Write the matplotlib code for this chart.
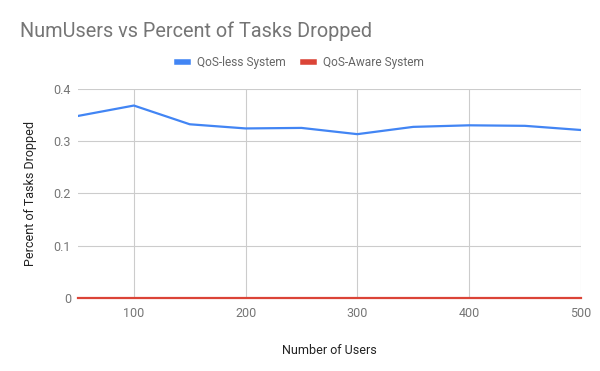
import matplotlib
matplotlib.use("Agg")
from matplotlib import pyplot as plt

plt.rcParams['font.family'] = ['Roboto', 'DejaVu Sans']

users = [50, 100, 150, 200, 250, 300, 350, 400, 450, 500]
qos_less = [0.349, 0.369, 0.333, 0.325, 0.326, 0.314, 0.328, 0.331, 0.330, 0.322]
qos_aware = [0, 0, 0, 0, 0, 0, 0, 0, 0, 0]

fig = plt.figure(figsize=(6, 3.71), dpi=100)
ax = fig.add_axes([0.13, 0.198, 0.838, 0.561])

ax.plot(users, qos_less, color='#4285f4', lw=1.6, label='QoS-less System', zorder=3)
ax.plot(users, qos_aware, color='#db4437', lw=1.6, label='QoS-Aware System', zorder=3, clip_on=False)

ax.set_xlim(50, 500)
ax.set_ylim(0, 0.4)
ax.set_xticks([100, 200, 300, 400, 500])
ax.set_yticks([0, 0.1, 0.2, 0.3, 0.4])
ax.set_yticklabels(['0', '0.1', '0.2', '0.3', '0.4'])
ax.grid(True, color='#cccccc', lw=0.8)
for s in ax.spines.values():
    s.set_visible(False)
ax.tick_params(length=0, labelsize=9, colors='#757575', pad=5)
ax.tick_params(axis='x', pad=7)

ax.set_xlabel('Number of Users', fontsize=9, color='#222222', labelpad=17)
ax.set_ylabel('Percent of Tasks Dropped', fontsize=9, color='#222222', labelpad=12)

fig.text(0.033, 0.900, 'NumUsers vs Percent of Tasks Dropped', fontsize=14.3, color='#757575', va='baseline')
fig.legend(loc='center left', bbox_to_anchor=(0.295, 0.8315), ncol=2, frameon=False,
           fontsize=8.6, labelcolor='#666666', handlelength=0.92, handletextpad=0.75,
           columnspacing=1.43, borderpad=0, borderaxespad=0)
leg = fig.legends[0]
for h in leg.get_lines():
    h.set_linewidth(4)

fig.savefig('out.png', dpi=100)
